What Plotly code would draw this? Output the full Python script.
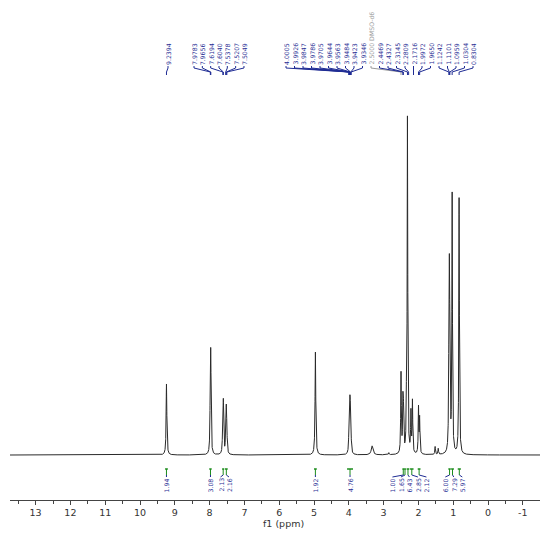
import numpy as np
import plotly.graph_objects as go

# ---------------- data ----------------
# spectral lines: chemical shift (ppm), intensity (arb.), half width (ppm)
line_ppm = [9.2394,
            7.9783, 7.9656, 7.6194, 7.6040, 7.5378, 7.5207, 7.5049,
            4.9600,
            4.0005, 3.9926, 3.9847, 3.9786, 3.9705, 3.9644, 3.9563, 3.9484, 3.9423, 3.9346,
            3.3300, 2.8500,
            2.5000, 2.4469, 2.4327, 2.3450, 2.3145, 2.2150, 2.1716, 1.9972, 1.9650,
            1.5200, 1.4300,
            1.1242, 1.1101, 1.0959, 1.0304, 0.8304]
line_int = [71,
            75, 75, 42, 42, 20, 39, 20,
            103,
            6, 10, 14, 17, 19, 19, 17, 14, 10, 6,
            9, 2,
            80, 43, 43, 40, 334, 40, 52, 46, 35,
            8, 6,
            74, 148, 74, 258, 257]
line_hw = [0.012,
           0.010, 0.010, 0.010, 0.010, 0.010, 0.010, 0.010,
           0.012,
           0.010, 0.010, 0.010, 0.010, 0.010, 0.010, 0.010, 0.010, 0.010, 0.010,
           0.030, 0.010,
           0.010, 0.010, 0.010, 0.010, 0.010, 0.010, 0.010, 0.010, 0.010,
           0.010, 0.010,
           0.010, 0.010, 0.010, 0.010, 0.010]

# peak labels (top)
peak_labels = ["9.2394",
               "7.9783", "7.9656", "7.6194", "7.6040", "7.5378", "7.5207", "7.5049",
               "4.0005", "3.9926", "3.9847", "3.9786", "3.9705", "3.9644", "3.9563",
               "3.9484", "3.9423", "3.9346",
               "2.5000 DMSO-d6", "2.4469", "2.4327", "2.3145", "2.2809", "2.1716",
               "1.9972", "1.9650",
               "1.1242", "1.1101", "1.0959", "1.0304", "0.8304"]
peak_label_ppm = [9.2394,
                  7.9783, 7.9656, 7.6194, 7.6040, 7.5378, 7.5207, 7.5049,
                  4.0005, 3.9926, 3.9847, 3.9786, 3.9705, 3.9644, 3.9563,
                  3.9484, 3.9423, 3.9346,
                  2.5000, 2.4469, 2.4327, 2.3145, 2.2809, 2.1716, 1.9972, 1.9650,
                  1.1242, 1.1101, 1.0959, 1.0304, 0.8304]

# integrals: region start/end (ppm) and value
int_start = [9.28, 8.01, 7.64, 7.56, 5.00, 4.05, 2.46, 2.41, 2.34, 2.24, 2.02, 1.14, 1.06, 0.87]
int_end   = [9.20, 7.94, 7.58, 7.48, 4.92, 3.88, 2.41, 2.36, 2.26, 2.14, 1.94, 1.07, 0.98, 0.78]
int_value = ["1.94", "3.08", "2.13", "2.16", "1.92", "4.76", "1.00", "1.65", "6.43",
             "2.85", "2.12", "6.00", "7.29", "5.97"]

tick_vals = [13, 12, 11, 10, 9, 8, 7, 6, 5, 4, 3, 2, 1, 0, -1]
tick_text = ["13", "12", "11", "10", "9", "8", "7", "6", "5", "4", "3", "2", "1", "0", "-1"]

# ---------------- layout helpers (page pixel coordinates) ----------------
OFF = 8                      # page body margin
W, H = 550 - 2 * OFF, 537 - 2 * OFF
PLOT_L, PLOT_R = 10, 540     # page px of plot area
PLOT_T, PLOT_B = 8, 500
ML, MR = PLOT_L - OFF, (W + OFF) - PLOT_R
MT, MB = PLOT_T - OFF, (H + OFF) - PLOT_B
X_LEFT, X_RIGHT = 13.736, -1.494
BASE_PY = 455
Y_HIGH = BASE_PY - PLOT_T
Y_LOW = BASE_PY - PLOT_B
PW = PLOT_R - PLOT_L


def px2ppm(px):
    return X_LEFT - (px - PLOT_L) * (X_LEFT - X_RIGHT) / PW


def ppm2px(p):
    return PLOT_L + (X_LEFT - p) * PW / (X_LEFT - X_RIGHT)


def py2y(py):
    return BASE_PY - py


def py2paper(py):
    return (PLOT_B - py) / (PLOT_B - PLOT_T)


def spread(targets, gap):
    clusters = [[t] for t in targets]
    changed = True
    while changed:
        changed = False
        for i in range(len(clusters) - 1):
            a, b = clusters[i], clusters[i + 1]
            ra = np.mean(a) + (len(a) - 1) / 2 * gap
            lb = np.mean(b) - (len(b) - 1) / 2 * gap
            if lb - ra < gap:
                clusters[i] = a + b
                del clusters[i + 1]
                changed = True
                break
    out = []
    for c in clusters:
        cen = np.mean(c)
        n = len(c)
        out += [cen + (k - (n - 1) / 2) * gap for k in range(n)]
    return out


# ---------------- spectrum ----------------
x = np.linspace(X_LEFT, X_RIGHT, 14000)
y = np.zeros_like(x)
for p, h, w in zip(line_ppm, line_int, line_hw):
    y += h / (1 + ((x - p) / w) ** 2)

LABEL_BLUE = "#1f2c94"
GREEN = "#1c8c1c"
font_family = "DejaVu Sans"

fig = go.Figure()
fig.add_trace(go.Scatter(x=x, y=y, mode="lines",
                         line=dict(color="#2a2a2a", width=1),
                         hoverinfo="skip", showlegend=False))

annotations = []

# peak label positions (page px): groups laid out side by side
label_px = [168] + [194 + 8.33 * i for i in range(7)] + [286 + 8.5 * i for i in range(23)]

LBL_BOTTOM = 66
for txt, lx, tp in zip(peak_labels, label_px, peak_label_ppm):
    tx = ppm2px(tp)
    col = "#9a9a9a" if "DMSO" in txt else LABEL_BLUE
    annotations.append(dict(x=px2ppm(lx), y=py2y(LBL_BOTTOM), xref="x", yref="y",
                            text=txt, textangle=-90, showarrow=False,
                            xanchor="center", yanchor="bottom", borderpad=0,
                            font=dict(family=font_family, size=6.2, color=col)))
    if abs(tx - lx) < 1.5:
        xs = [lx, lx]
        ys = [LBL_BOTTOM, 75]
    else:
        xs = [lx, lx, tx, tx]
        ys = [LBL_BOTTOM, 68, 72, 75]
    fig.add_trace(go.Scatter(x=[px2ppm(v) for v in xs], y=[py2y(v) for v in ys],
                             mode="lines", line=dict(color=col, width=1),
                             hoverinfo="skip", showlegend=False))

# integrals
mids = [(a + b) / 2 for a, b in zip(int_start, int_end)]
mid_px = [ppm2px(m) for m in mids]
int_lbl_px = spread(mid_px, 8.5)
for s, e, val, mp, lx in zip(int_start, int_end, int_value, mid_px, int_lbl_px):
    sx, ex = ppm2px(s), ppm2px(e)
    fig.add_trace(go.Scatter(x=[px2ppm(sx), px2ppm(ex)],
                             y=[py2y(469), py2y(469)],
                             mode="lines", line=dict(color=GREEN, width=1.5),
                             hoverinfo="skip", showlegend=False))
    fig.add_trace(go.Scatter(x=[px2ppm(mp), px2ppm(mp)],
                             y=[py2y(469), py2y(475)],
                             mode="lines", line=dict(color=GREEN, width=1),
                             hoverinfo="skip", showlegend=False))
    fig.add_trace(go.Scatter(x=[px2ppm(mp), px2ppm(lx)],
                             y=[py2y(475), py2y(477)],
                             mode="lines", line=dict(color=LABEL_BLUE, width=1),
                             hoverinfo="skip", showlegend=False))
    annotations.append(dict(x=px2ppm(lx), y=py2y(477), xref="x", yref="y",
                            text=val, textangle=-90, showarrow=False,
                            xanchor="center", yanchor="top", borderpad=0,
                            font=dict(family=font_family, size=6.2, color=LABEL_BLUE)))

annotations.append(dict(x=px2ppm(283), y=py2paper(523), xref="x", yref="paper",
                        text="f1 (ppm)", showarrow=False,
                        xanchor="center", yanchor="middle",
                        font=dict(family=font_family, size=9.5, color="#333333")))

fig.update_layout(
    width=W, height=H,
    margin=dict(l=ML, r=MR, t=MT, b=MB, pad=0),
    paper_bgcolor="white", plot_bgcolor="white",
    showlegend=False,
    annotations=annotations,
    xaxis=dict(range=[X_LEFT, X_RIGHT], showgrid=False, zeroline=False,
               showline=True, linecolor="#444444", linewidth=1,
               ticks="outside", ticklen=4, tickcolor="#444444",
               tickvals=tick_vals, ticktext=tick_text,
               tickfont=dict(family=font_family, size=9.5, color="#333333"),
               minor=dict(ticks="outside", ticklen=3, tickcolor="#444444",
                          dtick=0.5, tick0=0, showgrid=False)),
    yaxis=dict(range=[Y_LOW, Y_HIGH], visible=False, showgrid=False, zeroline=False),
)

fig.write_html("out.html")
